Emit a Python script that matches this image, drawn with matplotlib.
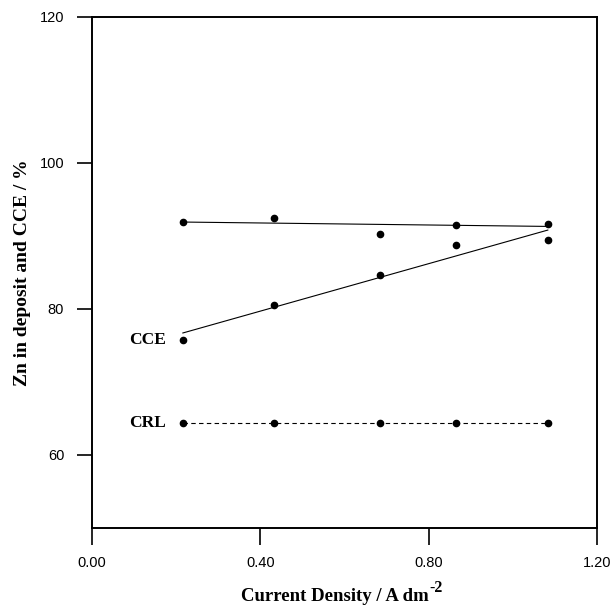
import matplotlib
matplotlib.use("Agg")
import matplotlib.pyplot as plt

# current density (A dm^-2)
density = [0.216, 0.432, 0.684, 0.865, 1.083]

# measured values (%)
zn_deposit = [91.9, 92.4, 90.3, 91.5, 91.7]
cce = [75.8, 80.6, 84.7, 88.7, 89.4]
crl = [64.3, 64.3, 64.3, 64.3, 64.3]

# straight-line trends drawn through the data range
fit_x = [0.216, 1.083]
zn_fit = [91.9, 91.3]
cce_fit = [76.7, 90.8]

xticks = [0.0, 0.4, 0.8, 1.2]
yticks = [60, 80, 100, 120]

fig = plt.figure(figsize=(6.13, 6.06), dpi=100)
ax = fig.add_axes([0.150, 0.129, 0.824, 0.843])

serif = ["Liberation Serif", "DejaVu Serif"]
sans = ["Liberation Sans", "DejaVu Sans"]

ax.plot(fit_x, zn_fit, color="black", lw=0.8)
ax.plot(fit_x, cce_fit, color="black", lw=0.8)
ax.plot(density, crl, color="black", lw=0.8, ls=(0, (4, 3)))

for ys in (zn_deposit, cce, crl):
    ax.plot(density, ys, "o", color="black", ms=4.5, ls="none")

ax.text(0.176, cce[0], "CCE", ha="right", va="center",
        family=serif, weight="bold", fontsize=12.5)
ax.text(0.176, crl[0], "CRL", ha="right", va="center",
        family=serif, weight="bold", fontsize=12.5)

ax.set_xlim(0, 1.2)
ax.set_ylim(50, 120)
ax.set_xticks(xticks)
ax.set_yticks(yticks)
ax.set_xticklabels([f"{v:.2f}" for v in xticks], family=sans, fontsize=10.5)
ax.set_yticklabels([str(v) for v in yticks], family=sans, fontsize=10.5)
ax.tick_params(axis="x", direction="out", length=12, width=1.2, pad=8)
ax.tick_params(axis="y", direction="out", length=11, width=1.2, pad=9)

for sp in ax.spines.values():
    sp.set_linewidth(1.4)

# x label, with a full-size superscript hung off its right edge
xlab = ax.set_xlabel("Current Density / A dm", family=serif,
                     weight="bold", fontsize=13.5, va="center")
ax.xaxis.set_label_coords(0.48, -0.135)
ax.annotate("-2", xy=(1, 0.55), xycoords=xlab, xytext=(0.5, 0),
            textcoords="offset points", ha="left", va="bottom",
            family=serif, weight="bold", fontsize=11.5)

ax.set_ylabel("Zn in deposit and CCE / %", family=serif,
              weight="bold", fontsize=14, va="center")
ax.yaxis.set_label_coords(-0.137, 0.5)

fig.savefig("out.png", dpi=100)
